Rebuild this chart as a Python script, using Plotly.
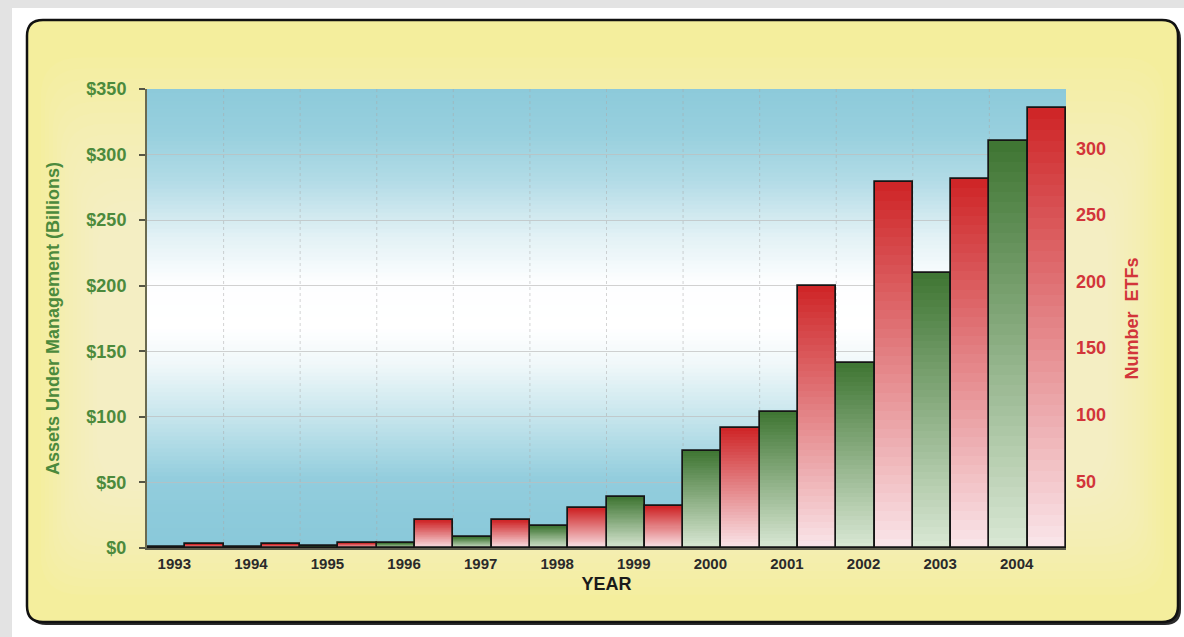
import plotly.graph_objects as go

years = ['1993', '1994', '1995', '1996', '1997', '1998', '1999', '2000', '2001', '2002', '2003', '2004']
assets_billions = [0.5, 0.6, 1.5, 4.0, 8.4, 16.7, 39, 74, 104, 141, 210, 310]
number_etfs = [3, 3, 4, 21, 21, 30, 31.5, 90, 197, 274.5, 277, 330]
left_ticks = [0, 50, 100, 150, 200, 250, 300, 350]
left_tick_text = ['$0', '$50', '$100', '$150', '$200', '$250', '$300', '$350']
right_ticks = [50, 100, 150, 200, 250, 300]

W, H = 1184, 637
L, R, T, B = 147, 1066, 89, 548
GREEN_TXT = '#4c8a3c'
RED_TXT = '#d2353a'

def px2paper(px, py):
    return (px - L) / (R - L), (B - py) / (B - T)

def rounded_rect(x0, y0, x1, y1, r):
    def P(x, y):
        a, b = px2paper(x, y)
        return f'{a:.5f},{b:.5f}'
    return (f'M {P(x0 + r, y0)} L {P(x1 - r, y0)} Q {P(x1, y0)} {P(x1, y0 + r)} '
            f'L {P(x1, y1 - r)} Q {P(x1, y1)} {P(x1 - r, y1)} L {P(x0 + r, y1)} '
            f'Q {P(x0, y1)} {P(x0, y1 - r)} L {P(x0, y0 + r)} Q {P(x0, y0)} {P(x0 + r, y0)} Z')

def lerp(c1, c2, f):
    return tuple(c1[i] + (c2[i] - c1[i]) * f for i in range(3))

def rgb(c):
    return f'rgb({int(round(c[0]))},{int(round(c[1]))},{int(round(c[2]))})'

shapes = []
# page border
shapes.append(dict(type='rect', xref='paper', yref='paper', x0=px2paper(0, 0)[0], x1=px2paper(W, 0)[0],
                   y0=px2paper(0, 0)[1], y1=px2paper(0, 8)[1], fillcolor='#e3e3e3', line_width=0, layer='below'))
shapes.append(dict(type='rect', xref='paper', yref='paper', x0=px2paper(0, 0)[0], x1=px2paper(10, 0)[0],
                   y0=px2paper(0, H)[1], y1=px2paper(0, 0)[1], fillcolor='#e3e3e3', line_width=0, layer='below'))
shapes.append(dict(type='line', xref='paper', yref='paper', x0=px2paper(11, 0)[0], x1=px2paper(11, 0)[0],
                   y0=px2paper(0, H)[1], y1=px2paper(0, 8)[1], line=dict(color='#c8c8c8', width=1), layer='below'))
# frame shadow and frame
shapes.append(dict(type='path', xref='paper', yref='paper', path=rounded_rect(30, 23, 1181, 625, 16),
                   fillcolor='#2a2a2a', line_width=0, layer='below'))
shapes.append(dict(type='path', xref='paper', yref='paper', path=rounded_rect(27, 20, 1178, 622, 16),
                   fillcolor='#f4ee9d', line=dict(color='#111111', width=2.5), layer='below'))
# very soft lighter centre of the yellow frame
for k in range(1, 16):
    inset = 12 + k * 5
    shapes.append(dict(type='path', xref='paper', yref='paper',
                       path=rounded_rect(27 + inset * 0.8, 20 + inset * 2.2, 1178 - inset * 0.8, 622 - inset * 1.6, 40),
                       fillcolor='rgba(255,254,232,0.05)', line_width=0, layer='below'))

# plot background gradient
stops = [(0.0, (137, 200, 217)), (0.15, (146, 205, 221)), (0.28, (196, 228, 236)), (0.40, (240, 248, 250)),
         (0.48, (255, 255, 255)), (0.58, (253, 254, 255)), (0.68, (226, 241, 245)), (0.80, (178, 219, 230)),
         (0.90, (152, 208, 222)), (1.0, (140, 202, 218))]

def grad(t):
    for i in range(len(stops) - 1):
        t0, c0 = stops[i]
        t1, c1 = stops[i + 1]
        if t0 <= t <= t1:
            return lerp(c0, c1, (t - t0) / (t1 - t0))
    return stops[-1][1]

NS = 115
for k in range(NS):
    t0 = k / NS
    t1 = (k + 1) / NS + 0.002
    shapes.append(dict(type='rect', xref='paper', yref='paper', x0=0, x1=1, y0=t0, y1=min(t1, 1),
                       fillcolor=rgb(grad((k + 0.5) / NS)), line_width=0, layer='below'))

# vertical dotted grid at category boundaries
for i in range(len(years) - 1):
    shapes.append(dict(type='line', xref='x', yref='paper', x0=i + 0.5, x1=i + 0.5, y0=0, y1=1,
                       line=dict(color='rgba(170,170,170,0.5)', width=1, dash='dot'), layer='below'))

fig = go.Figure()

N = 40
g_dark, g_light = (62, 117, 50), (218, 232, 213)
r_dark, r_light = (206, 36, 38), (250, 230, 234)
xs = list(range(len(years)))

for k in range(N):
    f = (k + 0.5) / N  # 0 bottom -> 1 top
    fig.add_trace(go.Bar(x=xs, y=[v / N * 1.01 for v in assets_billions],
                         base=[v * k / N for v in assets_billions],
                         width=0.5, offset=-0.5, marker=dict(color=rgb(lerp(g_light, g_dark, f)), line_width=0),
                         showlegend=False, hoverinfo='skip', yaxis='y'))
    fig.add_trace(go.Bar(x=xs, y=[v / N * 1.01 for v in number_etfs],
                         base=[v * k / N for v in number_etfs],
                         width=0.5, offset=0.0, marker=dict(color=rgb(lerp(r_light, r_dark, f)), line_width=0),
                         showlegend=False, hoverinfo='skip', yaxis='y2'))

fig.add_trace(go.Bar(x=xs, y=assets_billions, width=0.5, offset=-0.5, name='Assets Under Management',
                     marker=dict(color='rgba(0,0,0,0)', line=dict(color='#151515', width=1.7)),
                     showlegend=False, yaxis='y'))
fig.add_trace(go.Bar(x=xs, y=number_etfs, width=0.5, offset=0.0, name='Number ETFs',
                     marker=dict(color='rgba(0,0,0,0)', line=dict(color='#151515', width=1.7)),
                     showlegend=False, yaxis='y2'))

fig.update_layout(
    width=W, height=H,
    margin=dict(l=L, r=W - R, t=T, b=H - B, pad=0),
    paper_bgcolor='white', plot_bgcolor='rgba(0,0,0,0)',
    barmode='overlay', bargap=0,
    shapes=shapes,
    font=dict(family='Liberation Sans, Arial, sans-serif'),
    xaxis=dict(range=[-0.5, len(years) - 0.5], tickmode='array', tickvals=xs, ticktext=years,
               showgrid=False, zeroline=False, showline=True, linecolor='#5a5a4a', linewidth=2,
               ticks='', ticklabelshift=-11, ticklabelstandoff=1,
               tickfont=dict(size=15, color='#2a2a2a', weight='bold'),
               title=dict(text='YEAR', font=dict(size=18, color='#1a1a1a', weight='bold'), standoff=6)),
    yaxis=dict(range=[0, 350], tickmode='array', tickvals=left_ticks, ticktext=left_tick_text,
               showgrid=True, gridcolor='rgba(190,190,190,0.7)', gridwidth=1.2, zeroline=False,
               showline=True, linecolor='#6a6a50', linewidth=2, ticks='outside', ticklen=6,
               tickcolor='#555544', tickwidth=2, ticklabelstandoff=9,
               tickfont=dict(size=18, color=GREEN_TXT, weight='bold'),
               title=dict(text='Assets Under Management (Billions)',
                          font=dict(size=18, color=GREEN_TXT, weight='bold'), standoff=22)),
    yaxis2=dict(range=[0, 344.5], overlaying='y', side='right', tickmode='array', tickvals=right_ticks,
                showgrid=False, zeroline=False, showline=False, ticks='', ticklabelstandoff=9,
                tickfont=dict(size=18, color=RED_TXT, weight='bold'),
                title=dict(text='Number  ETFs', font=dict(size=18, color=RED_TXT, weight='bold'), standoff=20)),
)

fig.write_html('out.html')
